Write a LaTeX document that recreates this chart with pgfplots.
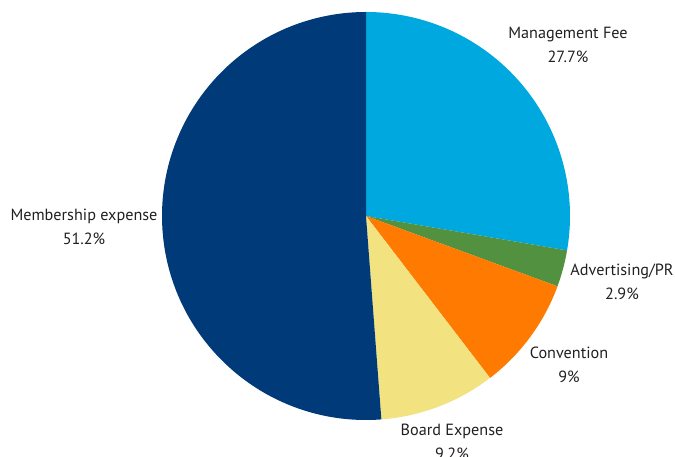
\documentclass[border=0pt]{standalone}
\usepackage{fontspec}
\setmainfont{PT Sans}
\usepackage{pgfplots}
\usepackage{pgfplotstable}
\pgfplotsset{compat=1.18}

\definecolor{c0}{HTML}{00A8E0}
\definecolor{c1}{HTML}{52913F}
\definecolor{c2}{HTML}{FF7A00}
\definecolor{c3}{HTML}{F2E280}
\definecolor{c4}{HTML}{003A78}
\definecolor{txt}{HTML}{231F20}

% slices clockwise from 12 o'clock
\pgfplotstableread[col sep=comma]{
label,value
Management Fee,27.7
Advertising/PR,2.9
Convention,9
Board Expense,9.2
Membership expense,51.2
}\piedata

\begin{document}
\begin{tikzpicture}
\useasboundingbox (0,0) rectangle (675pt,457pt);
\begin{axis}[
  at={(0,0)}, anchor=south west,
  x=1pt, y=1pt,
  xmin=-366, xmax=309, ymin=-241, ymax=216,
  hide axis, clip=false,
]
\def\startangle{90}
\pgfplotsforeachungrouped \i in {0,...,4}{
  \pgfplotstablegetelem{\i}{value}\of\piedata
  \let\v\pgfplotsretval
  \pgfmathsetmacro\endangle{\startangle-3.6*\v}
  \edef\temp{\noexpand\fill[c\i] (axis cs:0,0) -- (axis cs:{204*cos(\startangle)},{204*sin(\startangle)})
    arc[start angle=\startangle,end angle=\endangle,radius=204pt] -- cycle;}
  \temp
  \global\let\startangle\endangle
}
\begin{scope}[every node/.style={align=center,text=txt,font=\fontsize{16.2}{24}\selectfont}]
\node at (axis cs:202,171) {Management Fee\\27.7\%};
\node at (axis cs:256,-66) {Advertising/PR\\2.9\%};
\node at (axis cs:203,-149) {Convention\\9\%};
\node at (axis cs:86,-226) {Board Expense\\9.2\%};
\node at (axis cs:-282,-11) {Membership expense\\51.2\%};
\end{scope}
\end{axis}
\end{tikzpicture}
\end{document}
